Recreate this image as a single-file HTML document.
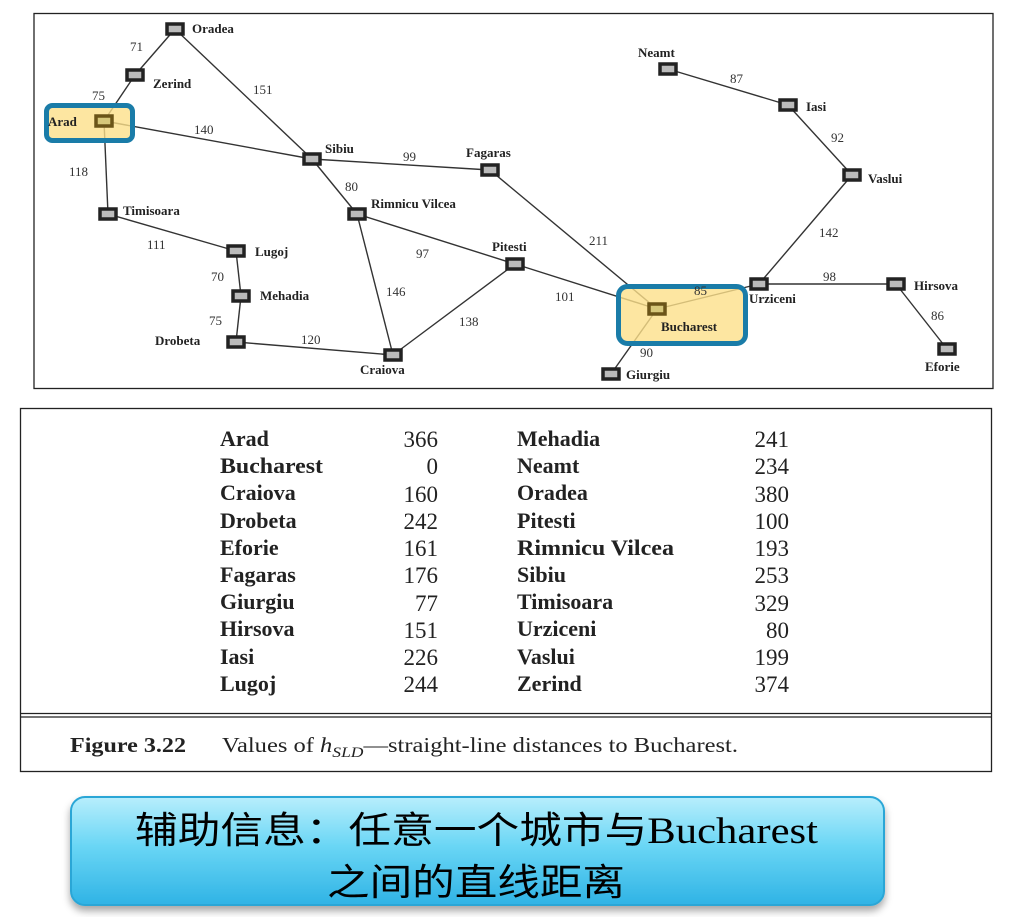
<!DOCTYPE html>
<html><head><meta charset="utf-8"><style>
html,body{margin:0;padding:0;background:#fff;}
svg{display:block}
.n{font-family:"Liberation Serif",serif;font-weight:bold;font-size:13px;fill:#222}
.d{font-family:"Liberation Serif",serif;font-size:13px;fill:#333}
.t{font-family:"Liberation Serif",serif;font-weight:bold;font-size:22px;fill:#222}
.v{font-family:"Liberation Serif",serif;font-size:23px;fill:#222}
</style></head><body>
<svg width="1020" height="917" viewBox="0 0 1020 917" xmlns="http://www.w3.org/2000/svg">
<defs>
<linearGradient id="bg" x1="0" y1="0" x2="0" y2="1">
<stop offset="0" stop-color="#b8eefc"/><stop offset="0.45" stop-color="#6ad6f5"/><stop offset="1" stop-color="#2fb3e5"/>
</linearGradient>
<filter id="sh" x="-5%" y="-10%" width="110%" height="130%"><feDropShadow dx="0" dy="5" stdDeviation="4" flood-color="#000" flood-opacity="0.35"/></filter>
</defs>
<rect x="34" y="13.5" width="959" height="375" fill="none" stroke="#222" stroke-width="1.3"/>
<g stroke="#333" stroke-width="1.4" fill="none">
<line x1="175" y1="29" x2="135" y2="75"/>
<line x1="135" y1="75" x2="104" y2="121"/>
<line x1="175" y1="29" x2="312" y2="159"/>
<line x1="104" y1="121" x2="312" y2="159"/>
<line x1="104" y1="121" x2="108" y2="214"/>
<line x1="108" y1="214" x2="236" y2="251"/>
<line x1="236" y1="251" x2="241" y2="296"/>
<line x1="241" y1="296" x2="236" y2="342"/>
<line x1="236" y1="342" x2="393" y2="355"/>
<line x1="312" y1="159" x2="490" y2="170"/>
<line x1="312" y1="159" x2="357" y2="214"/>
<line x1="357" y1="214" x2="393" y2="355"/>
<line x1="357" y1="214" x2="515" y2="264"/>
<line x1="393" y1="355" x2="515" y2="264"/>
<line x1="515" y1="264" x2="657" y2="309"/>
<line x1="490" y1="170" x2="657" y2="309"/>
<line x1="657" y1="309" x2="759" y2="284"/>
<line x1="657" y1="309" x2="611" y2="374"/>
<line x1="759" y1="284" x2="896" y2="284"/>
<line x1="896" y1="284" x2="947" y2="349"/>
<line x1="759" y1="284" x2="852" y2="175"/>
<line x1="852" y1="175" x2="788" y2="105"/>
<line x1="788" y1="105" x2="668" y2="69"/>
</g>
<rect x="46.5" y="105.5" width="86" height="35" rx="6" fill="#fde08a" fill-opacity="0.8" stroke="#1a7ca8" stroke-width="5"/>
<rect x="618.5" y="286.5" width="127" height="57" rx="9" fill="#fde08a" fill-opacity="0.8" stroke="#1a7ca8" stroke-width="5"/>
<g fill="#bbb" stroke="#222" stroke-width="3.5">
<rect x="167" y="24" width="16" height="10"/>
<rect x="127" y="70" width="16" height="10"/>
<rect x="100" y="209" width="16" height="10"/>
<rect x="228" y="246" width="16" height="10"/>
<rect x="233" y="291" width="16" height="10"/>
<rect x="228" y="337" width="16" height="10"/>
<rect x="385" y="350" width="16" height="10"/>
<rect x="349" y="209" width="16" height="10"/>
<rect x="304" y="154" width="16" height="10"/>
<rect x="482" y="165" width="16" height="10"/>
<rect x="507" y="259" width="16" height="10"/>
<rect x="603" y="369" width="16" height="10"/>
<rect x="751" y="279" width="16" height="10"/>
<rect x="888" y="279" width="16" height="10"/>
<rect x="939" y="344" width="16" height="10"/>
<rect x="844" y="170" width="16" height="10"/>
<rect x="780" y="100" width="16" height="10"/>
<rect x="660" y="64" width="16" height="10"/>
</g>
<g fill="#d6c77a" stroke="#6b5418" stroke-width="3.5">
<rect x="96" y="116" width="16" height="10"/>
<rect x="649" y="304" width="16" height="10"/>
</g>
<text class="n" x="192" y="33">Oradea</text>
<text class="n" x="153" y="88">Zerind</text>
<text class="n" x="48" y="126" fill="#7a5a10">Arad</text>
<text class="n" x="123" y="215">Timisoara</text>
<text class="n" x="255" y="256">Lugoj</text>
<text class="n" x="260" y="300">Mehadia</text>
<text class="n" x="155" y="345">Drobeta</text>
<text class="n" x="360" y="374">Craiova</text>
<text class="n" x="371" y="208">Rimnicu Vilcea</text>
<text class="n" x="325" y="153">Sibiu</text>
<text class="n" x="466" y="157">Fagaras</text>
<text class="n" x="492" y="251">Pitesti</text>
<text class="n" x="661" y="331" fill="#7a5a10">Bucharest</text>
<text class="n" x="626" y="379">Giurgiu</text>
<text class="n" x="749" y="303">Urziceni</text>
<text class="n" x="914" y="290">Hirsova</text>
<text class="n" x="925" y="371">Eforie</text>
<text class="n" x="868" y="183">Vaslui</text>
<text class="n" x="806" y="111">Iasi</text>
<text class="n" x="638" y="57">Neamt</text>
<text class="d" x="130" y="51">71</text>
<text class="d" x="92" y="100">75</text>
<text class="d" x="253" y="94">151</text>
<text class="d" x="194" y="134">140</text>
<text class="d" x="69" y="176">118</text>
<text class="d" x="147" y="249">111</text>
<text class="d" x="211" y="281">70</text>
<text class="d" x="209" y="325">75</text>
<text class="d" x="301" y="344">120</text>
<text class="d" x="403" y="161">99</text>
<text class="d" x="345" y="191">80</text>
<text class="d" x="416" y="258">97</text>
<text class="d" x="386" y="296">146</text>
<text class="d" x="459" y="326">138</text>
<text class="d" x="555" y="301">101</text>
<text class="d" x="589" y="245">211</text>
<text class="d" x="694" y="295" fill="#7a5a10">85</text>
<text class="d" x="640" y="357">90</text>
<text class="d" x="823" y="281">98</text>
<text class="d" x="931" y="320">86</text>
<text class="d" x="819" y="237">142</text>
<text class="d" x="831" y="142">92</text>
<text class="d" x="730" y="83">87</text>
<rect x="20.5" y="408.5" width="971" height="363" fill="none" stroke="#222" stroke-width="1.3"/>
<line x1="20" y1="713.5" x2="992" y2="713.5" stroke="#222" stroke-width="1.3"/>
<line x1="20" y1="717" x2="992" y2="717" stroke="#222" stroke-width="1.3"/>
<g>
<text class="t" x="220" y="446">Arad</text><text class="v" x="438" y="447" text-anchor="end">366</text>
<text class="t" x="220" y="473" textLength="103" lengthAdjust="spacingAndGlyphs">Bucharest</text><text class="v" x="438" y="474" text-anchor="end">0</text>
<text class="t" x="220" y="500">Craiova</text><text class="v" x="438" y="502" text-anchor="end">160</text>
<text class="t" x="220" y="528">Drobeta</text><text class="v" x="438" y="529" text-anchor="end">242</text>
<text class="t" x="220" y="555">Eforie</text><text class="v" x="438" y="556" text-anchor="end">161</text>
<text class="t" x="220" y="582">Fagaras</text><text class="v" x="438" y="583" text-anchor="end">176</text>
<text class="t" x="220" y="609">Giurgiu</text><text class="v" x="438" y="611" text-anchor="end">77</text>
<text class="t" x="220" y="636">Hirsova</text><text class="v" x="438" y="638" text-anchor="end">151</text>
<text class="t" x="220" y="664">Iasi</text><text class="v" x="438" y="665" text-anchor="end">226</text>
<text class="t" x="220" y="691">Lugoj</text><text class="v" x="438" y="692" text-anchor="end">244</text>
<text class="t" x="517" y="446">Mehadia</text><text class="v" x="789" y="447" text-anchor="end">241</text>
<text class="t" x="517" y="473">Neamt</text><text class="v" x="789" y="474" text-anchor="end">234</text>
<text class="t" x="517" y="500">Oradea</text><text class="v" x="789" y="502" text-anchor="end">380</text>
<text class="t" x="517" y="528">Pitesti</text><text class="v" x="789" y="529" text-anchor="end">100</text>
<text class="t" x="517" y="555" textLength="157" lengthAdjust="spacingAndGlyphs">Rimnicu Vilcea</text><text class="v" x="789" y="556" text-anchor="end">193</text>
<text class="t" x="517" y="582">Sibiu</text><text class="v" x="789" y="583" text-anchor="end">253</text>
<text class="t" x="517" y="609">Timisoara</text><text class="v" x="789" y="611" text-anchor="end">329</text>
<text class="t" x="517" y="636">Urziceni</text><text class="v" x="789" y="638" text-anchor="end">80</text>
<text class="t" x="517" y="664">Vaslui</text><text class="v" x="789" y="665" text-anchor="end">199</text>
<text class="t" x="517" y="691">Zerind</text><text class="v" x="789" y="692" text-anchor="end">374</text>
</g>
<text x="70" y="752" font-family="Liberation Serif,serif" font-size="21" font-weight="bold" fill="#222" textLength="116" lengthAdjust="spacingAndGlyphs">Figure 3.22</text>
<text x="222" y="752" font-family="Liberation Serif,serif" font-size="21" fill="#222" textLength="516" lengthAdjust="spacingAndGlyphs">Values of <tspan font-style="italic">h</tspan><tspan font-style="italic" font-size="15" dy="5">SLD</tspan><tspan dy="-5">—straight-line distances to Bucharest.</tspan></text>
<rect x="71" y="797" width="813" height="108" rx="14" fill="url(#bg)" stroke="#2aa6d6" stroke-width="2" filter="url(#sh)"/>
<text x="135" y="843" font-family="'Liberation Serif','Noto Sans CJK SC',serif" font-size="37" fill="#000" textLength="683" lengthAdjust="spacingAndGlyphs">辅助信息：任意一个城市与Bucharest</text>
<text x="327" y="895" font-family="'Liberation Serif','Noto Sans CJK SC',serif" font-size="37" fill="#000" textLength="298" lengthAdjust="spacingAndGlyphs">之间的直线距离</text>
</svg>
</body></html>
